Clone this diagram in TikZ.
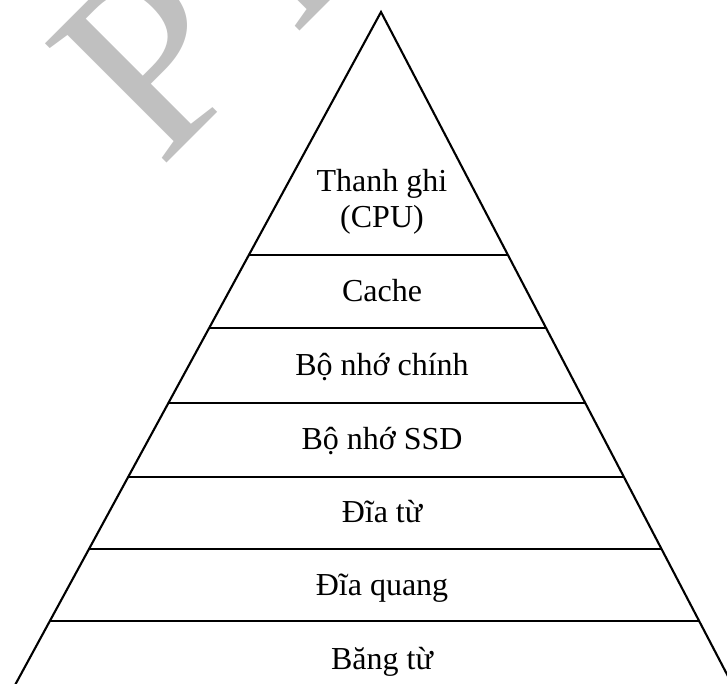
\documentclass[tikz,border=0pt]{standalone}
\usepackage{fontspec}
\setmainfont{Liberation Serif}
\definecolor{wmgray}{HTML}{C0C0C0}
\tikzset{
  layer/.style={anchor=base, inner sep=0pt, font=\fontsize{32}{36}\selectfont},
  wmark/.style={anchor=base west, inner sep=0pt, rotate=45, text=wmgray, font=\fontsize{260}{260}\selectfont},
  edge/.style={line width=2.1pt, line join=miter}
}
\begin{document}
\begin{tikzpicture}[x=1pt,y=1pt]
\useasboundingbox (0,0) rectangle (727,-684);
\clip (0,0) rectangle (727,-684);
% watermark
\node[wmark] (wmP) at (160.1,-169.9) {P};
\node[wmark] (wmR) at (293.5,-38) {R};
% pyramid
\coordinate (apex) at (381,-12);
\coordinate (bl) at (6.9,-700);
\coordinate (br) at (740.4,-700);
\draw[edge] (bl) -- (apex) -- (br);
\coordinate (l1) at (249.0,-254.7); \coordinate (r1) at (507.8,-254.7);
\coordinate (l2) at (209.0,-328.3); \coordinate (r2) at (546.2,-328.3);
\coordinate (l3) at (168.2,-403.3); \coordinate (r3) at (585.4,-403.3);
\coordinate (l4) at (128.0,-477.3); \coordinate (r4) at (624.1,-477.3);
\coordinate (l5) at (88.8,-549.3);  \coordinate (r5) at (661.7,-549.3);
\coordinate (l6) at (50.0,-620.7);  \coordinate (r6) at (699.0,-620.7);
\foreach \i in {1,...,6} \draw[edge] (l\i) -- (r\i);
% labels
\node[layer] (t1a) at (382,-191.7) {Thanh ghi};
\node[layer] (t1b) at (382,-227.5) {(CPU)};
\node[layer] (t2) at (382,-301.5) {Cache};
\node[layer] (t3) at (382,-375.5) {Bộ nhớ chính};
\node[layer] (t4) at (382,-449.5) {Bộ nhớ SSD};
\node[layer] (t5) at (382,-522) {Đĩa từ};
\node[layer] (t6) at (382,-595.5) {Đĩa quang};
\node[layer] (t7) at (382,-669.5) {Băng từ};
\end{tikzpicture}
\end{document}
